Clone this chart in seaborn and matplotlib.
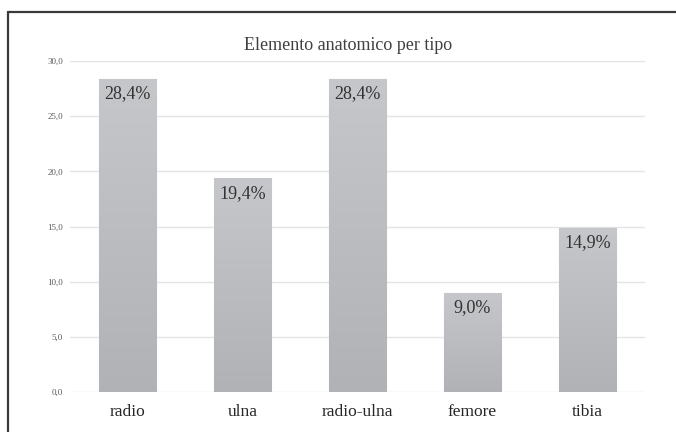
import numpy as np
import pandas as pd
import matplotlib
matplotlib.use("Agg")
import matplotlib.pyplot as plt
from matplotlib.lines import Line2D
from matplotlib.colors import LinearSegmentedColormap
import seaborn as sns

categories = ["radio", "ulna", "radio-ulna", "femore", "tibia"]
percentages = [28.4, 19.4, 28.4, 9.0, 14.9]
y_ticks = [0, 5, 10, 15, 20, 25, 30]
title = "Elemento anatomico per tipo"

sns.set_theme(style="white")
plt.rcParams["font.family"] = ["Liberation Serif", "DejaVu Serif"]

df = pd.DataFrame({"elemento": categories, "percentuale": percentages})

fig = plt.figure(figsize=(6.76, 4.32), dpi=100)
ax = fig.add_axes([70 / 676, 40 / 432, 575 / 676, 331 / 432])

sns.barplot(data=df, x="elemento", y="percentuale", ax=ax, width=0.5,
            color="#bdbec2", edgecolor="#d0d1d4", linewidth=0.8, zorder=2)

# vertical grey gradient inside each bar
cmap = LinearSegmentedColormap.from_list("bar", ["#b1b2b6", "#c6c7cb"])
grad = np.linspace(0, 1, 256).reshape(-1, 1)
for patch in ax.patches:
    x0, y0 = patch.get_x(), patch.get_y()
    w, h = patch.get_width(), patch.get_height()
    im = ax.imshow(grad, cmap=cmap, origin="lower", aspect="auto",
                   extent=[x0, x0 + w, y0, y0 + h], zorder=2.5)
    im.set_clip_path(patch)

for patch, val in zip(ax.patches, percentages):
    ax.annotate(f"{val:.1f}%".replace(".", ","),
                xy=(patch.get_x() + patch.get_width() / 2, val),
                xytext=(0, -11), textcoords="offset points",
                ha="center", va="center", fontsize=13, color="#333333",
                zorder=4)

ax.set_xlim(-0.5, len(categories) - 0.5)
ax.set_ylim(0, 30)
ax.set_yticks(y_ticks)
ax.set_yticklabels([f"{t:.1f}".replace(".", ",") for t in y_ticks],
                   fontsize=6.5, color="#595959")
ax.tick_params(axis="y", length=0, pad=5)
ax.tick_params(axis="x", length=0, pad=9, labelsize=12.5, labelcolor="#262626")
ax.set_xlabel("")
ax.set_ylabel("")
ax.yaxis.grid(True, color="#e4e4e4", linewidth=1.0, zorder=0)
ax.set_axisbelow(True)
for s in ax.spines.values():
    s.set_visible(False)

fig.text(348 / 676, 1 - 45 / 432, title, ha="center", va="center",
         fontsize=13, color="#404040")

# chart frame (top and left edges)
fig.add_artist(Line2D([8 / 676, 1.0], [1 - 12 / 432, 1 - 12 / 432],
                      color="#3a3a3a", linewidth=1.6, transform=fig.transFigure))
fig.add_artist(Line2D([8 / 676, 8 / 676], [0.0, 1 - 12 / 432],
                      color="#3a3a3a", linewidth=1.6, transform=fig.transFigure))

fig.savefig("out.png", dpi=100)
